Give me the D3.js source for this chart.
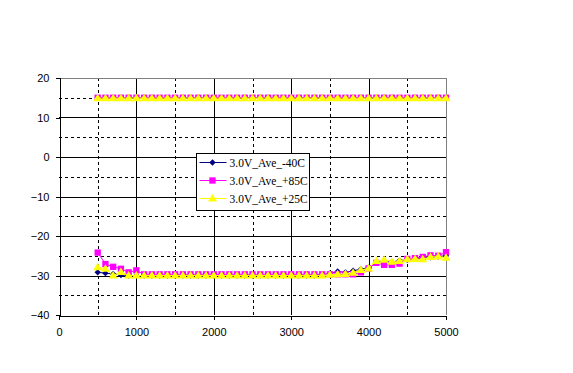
<!DOCTYPE html>
<html>
<head>
<meta charset="utf-8">
<script src="https://cdn.jsdelivr.net/npm/d3@7"></script>
<style>
  html, body { margin: 0; padding: 0; background: #fff; }
  svg { display: block; }
</style>
</head>
<body>
<div id="chart"></div>
<script>
// Sweep points (x axis)
const freqs = [500, 600, 700, 800, 900, 1000, 1100, 1200, 1300, 1400, 1500, 1600, 1700, 1800, 1900, 2000,
  2100, 2200, 2300, 2400, 2500, 2600, 2700, 2800, 2900, 3000, 3100, 3200, 3300, 3400, 3500, 3600, 3700,
  3800, 3900, 4000, 4100, 4200, 4300, 4400, 4500, 4600, 4700, 4800, 4900, 5000];

// Upper branch (all three temps sit at ~15)
const upperNeg40 = [15, 15, 15, 15, 15, 15, 15, 15, 15, 15, 15, 15, 15, 15, 15, 15, 15, 15, 15, 15, 15, 15, 15,
  15, 15, 15, 15, 15, 15, 15, 15, 15, 15, 15, 15, 15, 15, 15, 15, 15, 15, 15, 15, 15, 15, 15];
const upperPos85 = [15, 15, 15, 15, 15, 15, 15, 15, 15, 15, 15, 15, 15, 15, 15, 15, 15, 15, 15, 15, 15, 15, 15,
  15, 15, 15, 15, 15, 15, 15, 15, 15, 15, 15, 15, 15, 15, 15, 15, 15, 15, 15, 15, 15, 15, 15];
const upperPos25 = [14.9, 14.9, 14.9, 14.9, 14.9, 14.9, 14.9, 14.9, 14.9, 14.9, 14.9, 14.9, 14.9, 14.9, 14.9,
  14.9, 14.9, 14.9, 14.9, 14.9, 14.9, 14.9, 14.9, 14.9, 14.9, 14.9, 14.9, 14.9, 14.9, 14.9, 14.9, 14.9, 14.9,
  14.9, 14.9, 14.9, 14.9, 14.9, 14.9, 14.9, 14.9, 14.9, 14.9, 14.9, 14.9, 14.9];

// Lower branch
const lowerNeg40 = [-29.2, -29.4, -29.6, -29.9, -30, -30, -30, -30, -30, -30, -30, -30, -30, -30, -30, -30,
  -30, -30, -30, -30, -30, -30, -30, -30, -30, -30, -30, -30, -30, -29.8, -29.5, -29.0, -29.2, -28.8, -28.4,
  -28.0, -26.8, -26.4, -26.6, -26.2, -26.0, -25.8, -25.6, -25.4, -25.2, -25.0];
const lowerPos85 = [-24.2, -27.1, -27.8, -28.3, -29.2, -28.7, -29.7, -29.7, -29.7, -29.7, -29.7, -29.7, -29.7,
  -29.7, -29.7, -29.7, -29.7, -29.7, -29.7, -29.7, -29.7, -29.7, -29.7, -29.7, -29.7, -29.7, -29.7, -29.7,
  -29.7, -29.7, -29.7, -29.7, -29.7, -29.7, -29.2, -28.2, -26.8, -27.3, -27.3, -27.0, -25.8, -25.6, -25.3,
  -24.9, -25.0, -24.1];
const lowerPos25 = [-27.9, -28.3, -30, -29.1, -30, -30, -30, -30, -30, -30, -30, -30, -30, -30, -30, -30,
  -30, -30, -30, -30, -30, -30, -30, -30, -30, -30, -30, -30, -30, -30, -29.8, -29.7, -29.6, -29.3, -28.6,
  -28.2, -26.3, -26.0, -26.5, -26.3, -25.9, -25.8, -25.9, -25.3, -25.2, -25.5];

const seriesNames = ['3.0V_Ave_-40C', '3.0V_Ave_+85C', '3.0V_Ave_+25C'];
const xTicks = [0, 1000, 2000, 3000, 4000, 5000];
const yTicks = [-40, -30, -20, -10, 0, 10, 20];

const series = [
  { name: seriesNames[0], color: '#000080', marker: 'diamond', branches: [upperNeg40, lowerNeg40] },
  { name: seriesNames[1], color: '#ff00ff', marker: 'square', branches: [upperPos85, lowerPos85] },
  { name: seriesNames[2], color: '#ffff00', marker: 'triangle', branches: [upperPos25, lowerPos25] },
];

const W = 573, H = 373;
const plot = { left: 59, right: 446, top: 78, bottom: 315 };

const x = d3.scaleLinear().domain([0, 5000]).range([plot.left, plot.right]);
const y = d3.scaleLinear().domain([-40, 20]).range([plot.bottom, plot.top]);

const svg = d3.select('#chart').append('svg')
  .attr('width', W).attr('height', H)
  .attr('viewBox', `0 0 ${W} ${H}`);

// Gridlines: solid on major, dashed on the half steps
const grid = svg.append('g').attr('class', 'grid').attr('shape-rendering', 'crispEdges');
d3.range(500, 5000, 500).forEach((v) => {
  grid.append('line')
    .attr('x1', Math.round(x(v)) + 0.5).attr('x2', Math.round(x(v)) + 0.5)
    .attr('y1', plot.top).attr('y2', plot.bottom)
    .attr('stroke', '#000').attr('stroke-width', 1)
    .attr('stroke-dasharray', v % 1000 === 0 ? null : '3,3');
});
d3.range(-35, 20, 5).forEach((v) => {
  grid.append('line')
    .attr('x1', plot.left).attr('x2', plot.right)
    .attr('y1', Math.round(y(v)) + 0.5).attr('y2', Math.round(y(v)) + 0.5)
    .attr('stroke', '#000').attr('stroke-width', 1)
    .attr('stroke-dasharray', v % 10 === 0 ? null : '3,3');
});

// Plot frame: grey top/right, axes black
svg.append('path')
  .attr('d', `M${plot.left},${plot.top + 0.5}H${plot.right + 0.5}V${plot.bottom}`)
  .attr('fill', 'none').attr('stroke', '#808080').attr('shape-rendering', 'crispEdges');

const yAxis = svg.append('g')
  .attr('transform', `translate(${plot.left + 0.5},0)`)
  .call(d3.axisLeft(y).tickValues(yTicks).tickSize(4).tickPadding(6).tickFormat(d3.format('d')));
const xAxis = svg.append('g')
  .attr('transform', `translate(0,${plot.bottom + 0.5})`)
  .call(d3.axisBottom(x).tickValues(xTicks).tickSize(4).tickPadding(9).tickFormat(d3.format('d')));

[yAxis, xAxis].forEach((ax) => {
  ax.select('.domain').attr('stroke', '#000').attr('shape-rendering', 'crispEdges');
  ax.selectAll('.tick line').attr('stroke', '#000').attr('shape-rendering', 'crispEdges');
  ax.selectAll('.tick text')
    .attr('fill', '#000')
    .style('font-family', '"Liberation Sans", Arial, sans-serif')
    .style('font-size', '11px');
});

function markerPath(kind) {
  if (kind === 'diamond') return d3.symbol().type(d3.symbolDiamond2).size(26)();
  if (kind === 'square') return d3.symbol().type(d3.symbolSquare).size(40)();
  return 'M0,-4.5L4.5,3L-4.5,3Z';
}

const line = d3.line().x((d) => x(d[0])).y((d) => y(d[1]));

const marks = svg.append('g').attr('class', 'series');
series.forEach((s) => {
  const g = marks.append('g');
  s.branches.forEach((vals) => {
    const pts = freqs.map((f, i) => [f, vals[i]]);
    g.append('path')
      .attr('d', line(pts))
      .attr('fill', 'none')
      .attr('stroke', s.color)
      .attr('stroke-width', 1);
    g.selectAll(null)
      .data(pts)
      .enter().append('path')
      .attr('transform', (d) => `translate(${x(d[0])},${y(d[1])})`)
      .attr('d', markerPath(s.marker))
      .attr('fill', s.color);
  });
});

// Legend
const legend = svg.append('g').attr('transform', 'translate(196.5,153.5)');
legend.append('rect')
  .attr('width', 113).attr('height', 57)
  .attr('fill', '#fff').attr('stroke', '#000').attr('stroke-width', 1);
series.forEach((s, i) => {
  const row = legend.append('g').attr('transform', `translate(0,${9 + i * 18})`);
  row.append('line')
    .attr('x1', 3).attr('x2', 30).attr('y1', 0).attr('y2', 0)
    .attr('stroke', s.color).attr('stroke-width', 1);
  row.append('path')
    .attr('transform', 'translate(16,0)')
    .attr('d', markerPath(s.marker))
    .attr('fill', s.color);
  row.append('text')
    .attr('x', 33).attr('y', 4)
    .style('font-family', '"Liberation Serif", "Times New Roman", serif')
    .style('font-size', '11.5px')
    .attr('fill', '#000')
    .text(s.name);
});
</script>
</body>
</html>
